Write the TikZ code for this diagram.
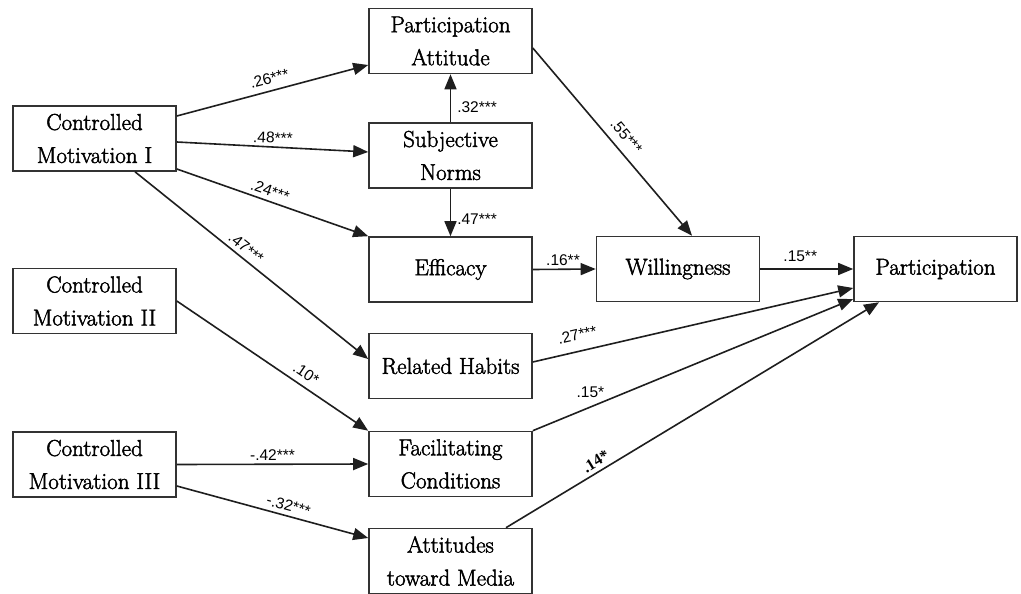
\documentclass[tikz,border=0pt]{standalone}
\usepackage{fontspec}
\newfontfamily\boxfont{Latin Modern Roman}[FakeBold=2]
\newfontfamily\coeffont{Liberation Sans}
\newfontfamily\coefserif{Liberation Serif}
\usetikzlibrary{arrows.meta}

\definecolor{boxgray}{HTML}{333333}
\definecolor{linegray}{HTML}{1E1E1E}

\tikzset{
  box/.style={draw=boxgray, line width=1.6pt, minimum width=163pt,
    minimum height=65pt, align=center, inner sep=2pt,
    font=\boxfont\fontsize{23}{33}\selectfont, text=black},
  conn/.style={draw=linegray, line width=1.6pt,
    -{Triangle[length=15pt,width=12pt]}},
  coef/.style={font=\coeffont\fontsize{15.5}{17}\selectfont, inner sep=2pt,
    text=black},
  coefb/.style={font=\coefserif\bfseries\fontsize{16}{18}\selectfont,
    inner sep=2pt, text=black}
}

\begin{document}
\begin{tikzpicture}[x=1pt, y=-1pt]
\useasboundingbox (0,0) rectangle (1021,594);

% exogenous motivations
\node[box] (cm1) at (94.5,138.5) {Controlled\\Motivation I};
\node[box] (cm2) at (94.5,301)   {Controlled\\Motivation II};
\node[box] (cm3) at (94.5,464.5) {Controlled\\Motivation III};

% mediators
\node[box] (pa)  at (450.5,41)    {Participation\\Attitude};
\node[box] (sn)  at (450.5,155.5) {Subjective\\Norms};
\node[box] (eff) at (450.5,269.5) {Efficacy};
\node[box] (rh)  at (450.5,366)   {Related Habits};
\node[box] (fc)  at (450.5,464)   {Facilitating\\Conditions};
\node[box] (atm) at (450.5,561)   {Attitudes\\toward Media};

% outcomes
\node[box] (w)   at (678,269)   {Willingness};
\node[box] (p)   at (935.5,269) {Participation};

% paths from Controlled Motivation I
\draw[conn] ([yshift=22.5pt]cm1.east) -- ([yshift=-24pt]pa.west)
  node[coef, pos=0.5, sloped, above=4pt] {.26***};
\draw[conn] ([yshift=-3.5pt]cm1.east) -- ([yshift=3.5pt]sn.west)
  node[coef, pos=0.5, sloped, above=1pt] {.48***};
\draw[conn] ([yshift=-30.5pt]cm1.east) -- (eff.north west)
  node[coef, pos=0.47, sloped, above=2pt] {.24***};
\draw[conn] ([xshift=40.5pt]cm1.south) -- ([yshift=7pt]rh.west)
  node[coef, pos=0.45, sloped, above=2pt] {.47***};

% paths from Controlled Motivation II and III
\draw[conn] (cm2.east) -- (fc.north west)
  node[coef, pos=0.64, sloped, above=4pt] {.10*};
\draw[conn] (cm3.east) -- (fc.west)
  node[coef, pos=0.5, above=1pt] {-.42***};
\draw[conn] ([yshift=-21.5pt]cm3.east) -- ([yshift=23pt]atm.west)
  node[coef, pos=0.57, sloped, above=2pt] {-.32***};

% paths among mediators
\draw[conn] (sn.north) -- (pa.south)
  node[coef, pos=0.32, right, xshift=4pt] {.32***};
\draw[conn] (sn.south) -- (eff.north)
  node[coef, pos=0.65, right, xshift=4pt] {.47***};
\draw[conn] ([yshift=-7pt]pa.east) -- ([xshift=14pt]w.north)
  node[coef, pos=0.52, sloped, above=6pt] {.55***};
\draw[conn] (eff.east) -- (w.west)
  node[coef, pos=0.48, above=1pt] {.16**};

% paths into Participation
\draw[conn] (w.east) -- (p.west)
  node[coef, pos=0.43, above=5pt] {.15**};
\draw[conn] ([yshift=4pt]rh.east) -- ([yshift=-19pt]p.west)
  node[coef, pos=0.15, sloped, above=8pt] {.27***};
\draw[conn] (fc.north east) -- ([yshift=-30pt]p.west)
  node[coef, pos=0.18, above=7pt] {.15*};
\draw[conn] ([xshift=55.5pt]atm.north) -- ([xshift=-56.5pt]p.south)
  node[coefb, pos=0.255, sloped, above=2pt] {.14*};
\end{tikzpicture}
\end{document}
